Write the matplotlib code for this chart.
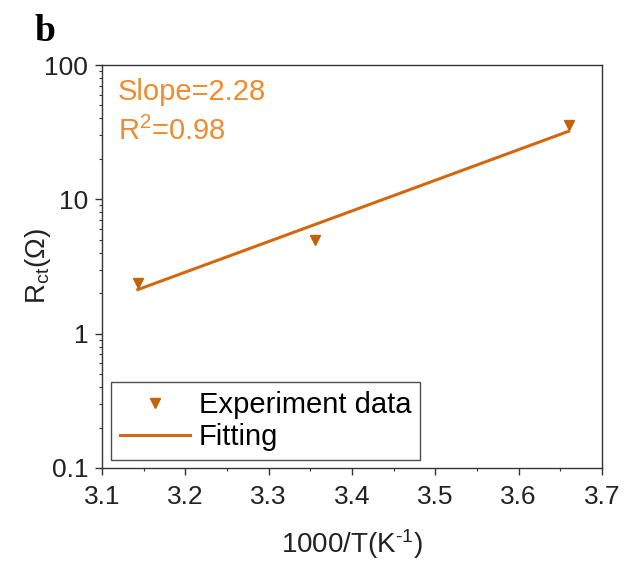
import numpy as np
import matplotlib
matplotlib.use("Agg")
import matplotlib.pyplot as plt
from matplotlib.ticker import LogLocator, FixedLocator, MultipleLocator, NullFormatter

# Charge-transfer resistance vs inverse temperature
inv_temp = [3.143, 3.355, 3.660]        # 1000/T (K^-1)
r_ct = [2.4, 5.0, 36.0]                 # R_ct (Ohm)

# Linear fit of log10(R_ct) against 1000/T
fit_slope = 2.28
fit_intercept = -6.838
fit_r2 = 0.98

x_ticks = [3.1, 3.2, 3.3, 3.4, 3.5, 3.6, 3.7]
y_ticks = [0.1, 1, 10, 100]
y_tick_labels = ["0.1", "1", "10", "100"]

plt.rcParams["font.family"] = ["Liberation Sans", "DejaVu Sans"]
plt.rcParams["mathtext.fontset"] = "custom"
plt.rcParams["mathtext.rm"] = "Liberation Sans"
plt.rcParams["mathtext.it"] = "Liberation Sans:italic"

marker_color = "#C5610C"
line_color = "#D2680F"
text_color = "#F28A2E"
spine_color = "#333333"
label_color = "#222222"

fig = plt.figure(figsize=(6.24, 5.61), dpi=100)
ax = fig.add_axes([0.1635, 0.1658, 0.8012, 0.7183])

ax.set_yscale("log")
ax.set_xlim(3.1, 3.7)
ax.set_ylim(0.1, 100)

x_fit = np.array([inv_temp[0], inv_temp[-1]])
y_fit = 10 ** (fit_slope * x_fit + fit_intercept)

ax.plot(inv_temp, r_ct, linestyle="none", marker="v", markersize=7.5,
        color=marker_color, label="Experiment data", zorder=3)
ax.plot(x_fit, y_fit, color=line_color, linewidth=2.2, label="Fitting", zorder=2)

ax.xaxis.set_major_locator(FixedLocator(x_ticks))
ax.xaxis.set_minor_locator(MultipleLocator(0.05))
ax.set_xticklabels([f"{v:.1f}" for v in x_ticks])
ax.yaxis.set_major_locator(FixedLocator(y_ticks))
ax.set_yticklabels(y_tick_labels)
ax.yaxis.set_minor_locator(LogLocator(base=10, subs=np.arange(2, 10)))
ax.yaxis.set_minor_formatter(NullFormatter())

ax.tick_params(which="major", direction="out", length=5, width=1,
               colors=spine_color, labelsize=19, labelcolor=label_color)
ax.tick_params(axis="x", which="major", pad=7)
ax.tick_params(axis="y", which="major", pad=5)
ax.tick_params(which="minor", direction="out", length=2.5, width=0.8, colors=spine_color)
ax.tick_params(top=False, right=False)

for s in ax.spines.values():
    s.set_color(spine_color)
    s.set_linewidth(1.0)

ax.set_xlabel("1000/T(K$^{\\text{-1}}$)", fontsize=20, color=label_color, labelpad=13)
ax.set_ylabel("R$_{\\mathrm{ct}}$(Ω)", fontsize=20, color=label_color)
ax.yaxis.set_label_coords(-0.098, 0.5)

ax.text(0.032, 0.913, f"Slope={fit_slope:.2f}", transform=ax.transAxes,
        fontsize=21, color=text_color, va="baseline", ha="left")
ax.text(0.032, 0.814, f"R$^2$={fit_r2:.2f}", transform=ax.transAxes,
        fontsize=21, color=text_color, va="baseline", ha="left")

leg = ax.legend(loc="lower left", bbox_to_anchor=(0.018, 0.02), borderaxespad=0,
                fontsize=21, frameon=True, fancybox=False, handlelength=2.4,
                handletextpad=0.3, borderpad=0.3, labelspacing=0.15)
leg.get_frame().set_edgecolor(label_color)
leg.get_frame().set_linewidth(1.0)

fig.text(0.055, 0.975, "b", fontsize=27, fontweight="bold",
         family="Liberation Serif", va="top", ha="left")

fig.savefig("out.png", dpi=100)
